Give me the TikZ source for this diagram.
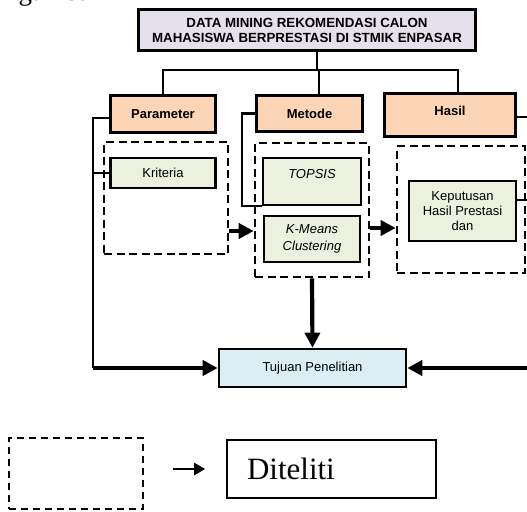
\documentclass[tikz,border=0pt]{standalone}
\usepackage{fontspec}
\setmainfont{Liberation Serif}
\setsansfont{Liberation Sans}
\usetikzlibrary{arrows.meta}

\definecolor{lavender}{HTML}{E6E0EC}
\definecolor{peach}{HTML}{FBD5B5}
\definecolor{palegreen}{HTML}{EBF1DE}
\definecolor{paleblue}{HTML}{DBEEF4}

\begin{document}
\begin{tikzpicture}[x=1pt,y=-1pt,
  font=\sffamily\fontsize{13}{15}\selectfont,
  box/.style={draw, line width=2.6pt, align=center, inner sep=2pt},
  headbox/.style={box, fill=peach, font=\sffamily\bfseries\fontsize{13}{15}\selectfont},
  itembox/.style={box, fill=palegreen},
  groupbox/.style={draw, line width=2.6pt, dash pattern=on 8pt off 4.5pt},
  link/.style={line width=2.2pt},
  flow/.style={line width=4.2pt, -{Triangle[length=15pt,width=15pt]}}]
  \useasboundingbox (0,0) rectangle (527,511);

  % Caption word cut at the top
  \node[anchor=base west, font=\rmfamily\fontsize{27}{27}\selectfont] (gambar) at (15,1) {gambar};

  % Title and the three headings
  \node[box, fill=lavender, font=\sffamily\bfseries\fontsize{13.3}{15}\selectfont,
        minimum width=337pt, minimum height=41pt] (judul) at (307,30)
        {DATA MINING REKOMENDASI CALON\\MAHASISWA BERPRESTASI DI STMIK ENPASAR};
  \node[headbox, minimum width=105pt, minimum height=37pt] (param) at (163,114) {Parameter};
  \node[headbox, minimum width=106pt, minimum height=36pt] (metode) at (309.5,113.5) {Metode};
  \node[headbox, minimum width=131pt, minimum height=43pt, text depth=8pt] (hasil) at (450,115) {Hasil};

  % Dashed groups
  \node[groupbox, minimum width=124pt, minimum height=112pt] (grupparam) at (166,198) {};
  \node[groupbox, minimum width=114pt, minimum height=134pt] (grupmetode) at (312,210) {};
  \node[groupbox, minimum width=128pt, minimum height=127pt] (gruphasil) at (461,209.5) {};

  % Items inside the groups
  \node[itembox, minimum width=105pt, minimum height=30pt] (kriteria) at (163,173) {Kriteria};
  \node[itembox, font=\sffamily\itshape\fontsize{13}{15}\selectfont,
        minimum width=98pt, minimum height=47pt, text depth=15pt] (topsis) at (312,181.5) {TOPSIS};
  \node[itembox, font=\sffamily\itshape\fontsize{13}{17}\selectfont,
        minimum width=96pt, minimum height=46pt] (kmeans) at (312,239) {K-Means\\Clustering};
  \node[itembox, minimum width=107pt, minimum height=60pt] (keputusan) at (462.5,211)
        {Keputusan\\Hasil Prestasi\\dan};

  % Goal
  \node[box, fill=paleblue, minimum width=187pt, minimum height=38pt] (tujuan) at (312.5,368) {Tujuan Penelitian};

  % Draw the tree from the title
  \draw[link] ([xshift=10pt]judul.south) -- ++(0,18) coordinate (bus);
  \draw[link] (param.north) |- (bus) -| ([xshift=8pt]hasil.north);
  \draw[link] ([xshift=9.5pt]metode.north) -- ([xshift=9.5pt]metode.north |- bus);

  % Draw left side lines
  \coordinate (kiri) at (93,118);
  \draw[link] (param.west |- kiri) -- (kiri) -- (kiri |- tujuan.west);
  \draw[link] (kriteria.west) -- (kriteria.west -| kiri);
  \draw[flow] (kiri |- tujuan.west) -- (tujuan.west);
  \draw[link] (metode.west) -- ++(-13,0) |- (topsis.south west);

  % Draw right side lines
  \coordinate (kanan) at (529,117);
  \draw[link] (hasil.east |- kanan) -- (kanan) -- (kanan |- tujuan.east);
  \draw[link] ([yshift=11pt]keputusan.east) -- ([yshift=11pt]keputusan.east -| kanan);
  \draw[flow] (kanan |- tujuan.east) -- (tujuan.east);

  % Draw thick arrows between the groups
  \draw[flow] ([yshift=-33pt]grupparam.east) -- ([yshift=-21pt]grupmetode.west);
  \draw[flow] ([yshift=-18pt]grupmetode.east) -- ([yshift=-18.5pt]gruphasil.west);
  \draw[flow] (grupmetode.south) -- (tujuan.north);

  % Legend
  \node[draw, line width=2.2pt, dash pattern=on 7pt off 5pt,
        minimum width=134pt, minimum height=71pt] (legenda) at (76,473.5) {};
  \node[draw, line width=1.6pt, minimum width=209pt, minimum height=58pt,
        text width=169pt, inner xsep=20pt, align=left,
        font=\rmfamily\fontsize{31}{31}\selectfont] (diteliti) at (331.5,469) {Diteliti};
  \draw[line width=2.2pt, -{Triangle[length=11pt,width=12pt]}]
    ([xshift=29pt]legenda.east |- diteliti.west) -- ([xshift=-21pt]diteliti.west);
\end{tikzpicture}
\end{document}
